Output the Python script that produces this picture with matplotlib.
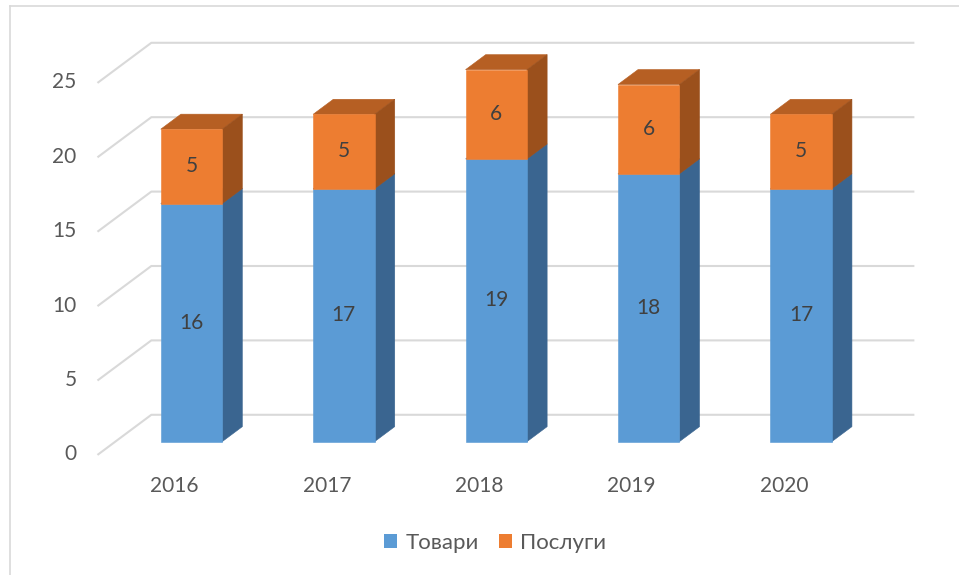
import matplotlib.pyplot as plt
from matplotlib.patches import Polygon, Patch
from matplotlib.lines import Line2D

# Data
years = ['2016', '2017', '2018', '2019', '2020']
goods = [16, 17, 19, 18, 17]      # Товари
services = [5, 5, 6, 6, 5]        # Послуги
y_ticks = [0, 5, 10, 15, 20, 25]

# Colours (Excel style, front / top / side)
blue = ('#5B9BD5', '#4A80B2', '#3A6590')
orange = ('#ED7D31', '#B65F23', '#9B501C')
grid_c = '#D9D9D9'
text_c = '#595959'

plt.rcParams['font.family'] = ['Lato', 'Open Sans', 'DejaVu Sans']

fig = plt.figure(figsize=(9.59, 5.75), dpi=100)
# axes = front plane of the 3D box
ax = fig.add_axes([98.3 / 959, 1 - 454.3 / 575, 762 / 959, 25 * 14.88 / 575])
ax.set_xlim(-0.5, 4.5)
ax.set_ylim(0, 25)
ax.axis('off')

# depth of the floor (in data units) and where bars sit in it
DX, DY = 0.348, 2.655
f0, f1 = 0.32, 0.70
bw = 0.403

# chart area border (left and top edges only visible)
fig.add_artist(Line2D([10 / 959, 10 / 959], [0, 1 - 6 / 575], color=grid_c, lw=1.2))
fig.add_artist(Line2D([10 / 959, 1], [1 - 6 / 575, 1 - 6 / 575], color=grid_c, lw=1.2))

# gridlines: diagonal on the side wall + horizontal on the back wall
for v in y_ticks:
    ax.plot([-0.5, -0.5 + DX, 4.5 + DX], [v, v + DY, v + DY],
            color=grid_c, lw=1.5, clip_on=False, zorder=1)
    ax.annotate(str(v), xy=(-0.5, v), xytext=(-15.7, 0), textcoords='offset points',
                ha='right', va='center', fontsize=15, color=text_c)

for i, yr in enumerate(years):
    ax.annotate(yr, xy=(i, 0), xytext=(0, -22.8), textcoords='offset points',
                ha='center', va='center', fontsize=15, color=text_c)


def draw_box(i, y0, y1, cols, z):
    xl = i - bw / 2 + f0 * DX
    xr = i + bw / 2 + f0 * DX
    b0 = y0 + f0 * DY
    t0 = y1 + f0 * DY
    ddx = (f1 - f0) * DX
    ddy = (f1 - f0) * DY
    front = Polygon([(xl, b0), (xr, b0), (xr, t0), (xl, t0)], closed=True,
                    facecolor=cols[0], edgecolor=cols[0], lw=0.4, zorder=z + 0.2, clip_on=False)
    top = Polygon([(xl, t0), (xr, t0), (xr + ddx, t0 + ddy), (xl + ddx, t0 + ddy)],
                  closed=True, facecolor=cols[1], edgecolor=cols[1], lw=0.4, zorder=z, clip_on=False)
    side = Polygon([(xr, b0), (xr + ddx, b0 + ddy), (xr + ddx, t0 + ddy), (xr, t0)],
                   closed=True, facecolor=cols[2], edgecolor=cols[2], lw=0.4, zorder=z + 0.1, clip_on=False)
    for p in (top, side, front):
        ax.add_patch(p)
    ax.text((xl + xr) / 2, (b0 + t0) / 2, str(int(y1 - y0)), ha='center', va='center',
            fontsize=15, color='#404040', zorder=z + 0.5, clip_on=False)


for i in range(len(years)):
    draw_box(i, 0, goods[i], blue, 3)
    draw_box(i, goods[i], goods[i] + services[i], orange, 4)

handles = [Patch(facecolor=blue[0], label='Товари'),
           Patch(facecolor=orange[0], label='Послуги')]
fig.legend(handles=handles, loc='center', bbox_to_anchor=(495 / 959, 1 - 543 / 575),
           ncol=2, frameon=False, fontsize=16, labelcolor=text_c,
           handlelength=0.62, handleheight=0.62, handletextpad=0.35, columnspacing=0.9)

fig.savefig('out.png', dpi=100, facecolor='white')
